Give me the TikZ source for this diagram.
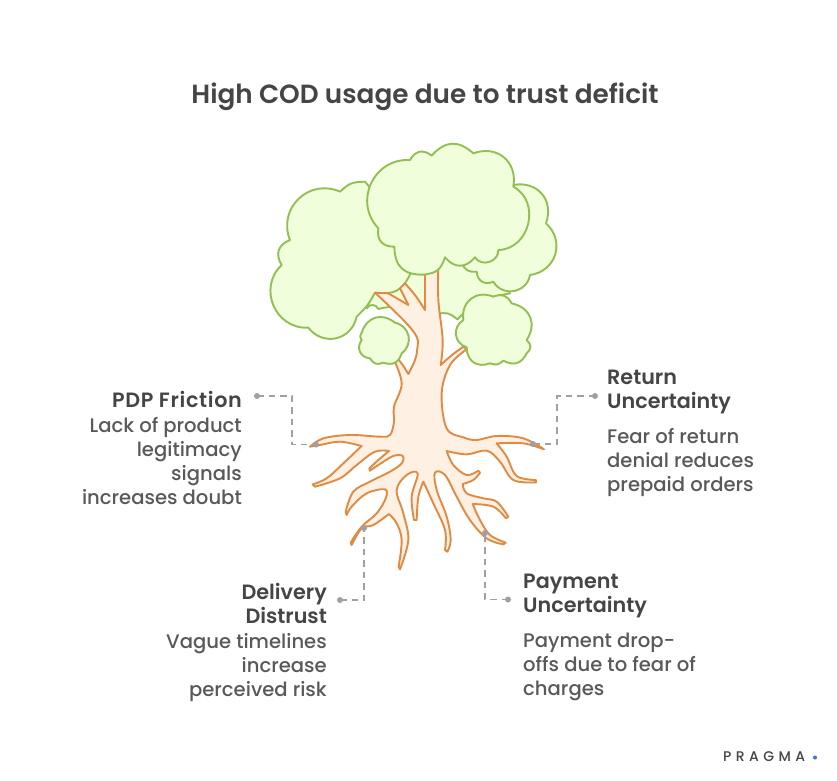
\documentclass[tikz,border=0pt]{standalone}
\usepackage{fontspec}
\setmainfont{Poppins}[BoldFont={Poppins SemiBold}]
\newfontfamily\medfont{Poppins Medium}
\definecolor{leaf}{HTML}{F0FEDB}
\definecolor{leafline}{HTML}{93BE52}
\definecolor{bark}{HTML}{FFF0E4}
\definecolor{barkline}{HTML}{E08A42}
\definecolor{ink}{HTML}{454545}
\definecolor{bodyink}{HTML}{595959}
\definecolor{guide}{HTML}{A0A0A0}
\definecolor{pragdot}{HTML}{3F6FE0}
\tikzset{
  canopy/.style={fill=leaf,draw=leafline,line width=1.9pt,line join=round,looseness=1.25},
  trunk/.style={fill=bark,draw=barkline,line width=1.9pt,line join=round},
  bmp/.style={bend left=#1},
  bmp/.default=55,
  sm/.style={smooth,tension=0.6},
  guideline/.style={draw=guide,line width=1.5pt,dash pattern=on 6.5pt off 5pt},
  gdot/.style={circle,fill=guide,inner sep=0pt,minimum size=6pt},
  head/.style={font=\fontsize{20.7}{24}\selectfont\bfseries,text=ink,inner sep=0pt},
  body/.style={font=\fontsize{19.6}{24}\selectfont\medfont,text=bodyink,inner sep=0pt},
}
\begin{document}
\begin{tikzpicture}[x=1pt,y=-1pt]
\useasboundingbox (0,0) rectangle (837,780);
\fill[white] (0,0) rectangle (837,780);

\node[font=\fontsize{26.3}{30}\selectfont\bfseries,text=ink,inner sep=0pt,anchor=base] (title) at (425,103) {High COD usage due to trust deficit};

% canopy back layers
\begin{scope}[shift={(260,140)},x=0.33333pt,y=-0.33333pt]
\path[canopy] (320,505) to[bmp=60] (355,507) to[bmp=35] (445,540) -- (530,522) to[bmp=25] (592,538) -- (650,480) -- (750,460) -- (700,300) -- (400,300) -- cycle;
\path[canopy] (700,300) -- (760,135) to[bmp=60] (858,250) to[bmp=65] (810,405) to[bmp=70] (700,425) to[bmp=55] (650,395) to[bmp=35] (605,368) -- cycle;
\path[canopy] (452,400) to[bmp=35] (345,458) to[bend left=8] (290,530) to[bmp=65] (145,563) to[bmp=70] (65,375) to[bmp=50] (90,300) to[bmp=68] (240,155) to[bmp=20] (315,125) -- (420,250) -- cycle;
\end{scope}

% trunk and roots
\begin{scope}[shift={(290,350)},x=0.33333pt,y=-0.33333pt]
\path[trunk]
 plot[sm] coordinates {(452,45) (486,15) (520,-10)} -- (530,-2)
 -- plot[sm] coordinates {(530,-2) (480,45) (455,130) (470,235) (520,262) (560,270) (620,258) (700,265) (762,298)}
 -- plot[sm] coordinates {(762,298) (700,280) (620,280)}
 -- plot[sm] coordinates {(620,280) (650,320) (680,378) (738,390)} -- plot[sm] coordinates {(738,397) (670,390) (630,335) (590,302) (530,313) (470,303)}
 -- plot[sm] coordinates {(470,303) (490,345) (530,375) (565,362)} -- plot[sm] coordinates {(570,368) (550,390) (518,402)}
 -- plot[sm] coordinates {(518,402) (530,430) (580,445) (620,455) (655,500)} -- plot[sm] coordinates {(648,505) (610,470) (548,462)}
 -- plot[sm] coordinates {(548,462) (570,510) (600,555) (647,578)} -- plot[sm] coordinates {(640,583) (590,565) (540,510) (500,440) (465,375) (435,368) (440,420) (470,500) (482,570) (472,605)} -- plot[sm] coordinates {(465,600) (465,540) (430,460) (400,395)}
 -- plot[sm] coordinates {(400,395) (385,440) (380,510)} -- plot[sm] coordinates {(372,510) (365,440) (383,370) (350,375) (320,420) (340,490) (355,570) (330,658)} -- plot[sm] coordinates {(326,650) (335,570) (320,520) (297,492)}
 -- plot[sm] coordinates {(297,492) (250,525) (215,535) (185,585)} -- plot[sm] coordinates {(182,578) (215,530) (260,490) (287,445) (285,418) (230,430) (185,470) (170,495)} -- plot[sm] coordinates {(167,485) (190,425) (240,395) (300,365) (335,340) (338,318) (310,318) (265,345) (240,362)} -- plot[sm] coordinates {(238,355) (265,330) (297,303)}
 -- plot[sm] coordinates {(297,303) (255,305) (200,345) (150,385) (75,410)} -- plot[sm] coordinates {(68,403) (110,385) (160,340) (215,288)}
 -- plot[sm] coordinates {(215,288) (150,275) (90,285) (60,290)} -- plot[sm] coordinates {(60,290) (100,265) (180,255) (270,260) (300,255) (312,215) (312,170) (335,100) (310,25)} -- (320,22)
 -- plot[sm] coordinates {(320,22) (338,45) (355,72)}
 -- plot[sm] coordinates {(355,72) (375,30) (382,-5) (380,-40) (340,-90) (255,-172)} -- (295,-170) -- (355,-135)
 -- plot[sm] coordinates {(355,-135) (340,-165) (330,-185)} -- (345,-200)
 -- plot[sm] coordinates {(345,-200) (375,-165) (405,-120)} -- (405,-230)
 -- plot[sm] coordinates {(405,-230) (425,-238) (445,-250)}
 -- plot[sm] coordinates {(445,-250) (445,-150) (458,-30) (452,45)} -- cycle;
\end{scope}

% canopy front layers
\begin{scope}[shift={(260,140)},x=0.33333pt,y=-0.33333pt]
\path[canopy] (355,265) to[bmp=68] (450,60) to[bmp=50] (515,47) to[bmp=45] (640,40) to[bmp=60] (760,140) to[bmp=75] (715,330) to[bmp=75] (645,352) to[bmp=50] (555,352) to[bmp=32] (490,404) to[bmp=45] (403,320) to[bmp=50] cycle;
\path[canopy] (305,578) to[bmp=55] (405,548) to[bmp=65] (425,640) to[bmp=45] (370,668) to[bmp=40] (330,655) to[bmp=60] (305,600) to[bmp=30] cycle;
\path[canopy] (620,622) to[bmp=65] (610,540) to[bmp=60] (700,470) to[bmp=40] (755,490) to[bmp=55] (800,600) to[bmp=50] (800,640) to[bmp=45] (730,662) to[bmp=30] (690,670) to[bmp=55] cycle;
\end{scope}

% connectors
\node[gdot] (d1a) at (257,396) {};
\node[gdot] (d1b) at (316,444.5) {};
\coordinate (c1) at (292,420);
\draw[guideline] (d1a.center) -| (c1) |- (d1b.center);
\node[gdot] (d2a) at (595,396) {};
\node[gdot] (d2b) at (533,444) {};
\coordinate (c2) at (557,420);
\draw[guideline] (d2a.center) -| (c2) |- (d2b.center);
\node[gdot] (d3a) at (340,600) {};
\node[gdot] (d3b) at (364,528) {};
\draw[guideline] (d3a.center) -| (d3b.center);
\node[gdot] (d4a) at (508,599.5) {};
\node[gdot] (d4b) at (485,533) {};
\draw[guideline] (d4a.center) -| (d4b.center);

% labels
\node[head,anchor=base east] (h1) at (242,407) {\addfontfeature{LetterSpace=3.2}PDP Friction};
\node[body,anchor=north east,align=right] (b1) at (242,417) {Lack of product\\legitimacy\\signals\\increases doubt};
\node[head,anchor=north west,align=left] (h2) at (607,370) {Return\\Uncertainty};
\node[body,anchor=north west,align=left] (b2) at (607,428) {Fear of return\\denial reduces\\prepaid orders};
\node[head,anchor=north east,align=right] (h3) at (327,583) {Delivery\\Distrust};
\node[body,anchor=north east,align=right] (b3) at (327,633) {Vague timelines\\increase\\perceived risk};
\node[head,anchor=north west,align=left] (h4) at (523,574) {Payment\\Uncertainty};
\node[body,anchor=north west,align=left] (b4) at (523,633) {Payment drop-\\offs due to fear of\\charges};

% brand
\node[font=\fontsize{14}{16}\selectfont\medfont,text=ink,inner sep=0pt,anchor=base west] (brand) at (723,761) {P\hspace{4.4pt}R\hspace{4.4pt}A\hspace{4.4pt}G\hspace{4.4pt}M\hspace{4.4pt}A};
\node[circle,fill=pragdot,inner sep=0pt,minimum size=4pt] (brandot) at (815,757.5) {};
\end{tikzpicture}
\end{document}
